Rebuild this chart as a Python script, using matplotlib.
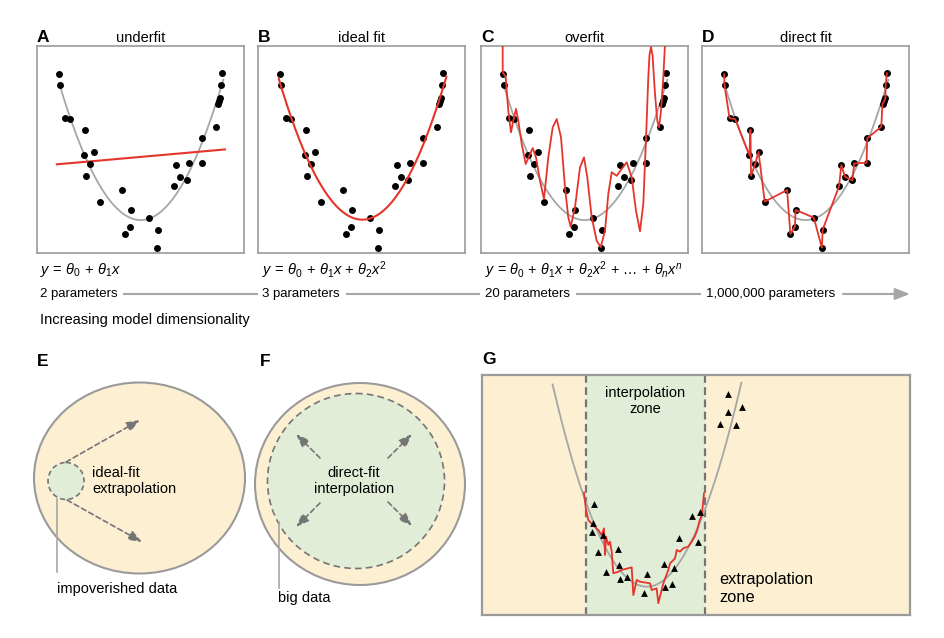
import matplotlib
matplotlib.use('Agg')
import matplotlib.pyplot as plt
import numpy as np
from matplotlib.patches import Ellipse

plt.rcParams['font.family'] = ['Liberation Sans', 'DejaVu Sans']
plt.rcParams['mathtext.fontset'] = 'custom'
plt.rcParams['mathtext.rm'] = 'Liberation Sans'
plt.rcParams['mathtext.it'] = 'Liberation Sans:italic'
plt.rcParams['mathtext.bf'] = 'Liberation Sans:bold'

# colours
RED = '#e5352b'
GREY = '#a6a6a6'
EDGE = '#9a9a9a'
DASH = '#757575'
YELLOW = '#fcefd2'
GREEN = '#e2edd7'

# sample points shared by panels A-D (box coords 0..1)
pts_x = [0.107, 0.109, 0.133, 0.160, 0.234, 0.229, 0.273, 0.257, 0.237, 0.303,
         0.411, 0.452, 0.449, 0.427, 0.540, 0.583, 0.579, 0.662, 0.673, 0.691,
         0.727, 0.735, 0.795, 0.798, 0.866, 0.872, 0.880, 0.886, 0.887, 0.893]
pts_y = [0.863, 0.810, 0.651, 0.647, 0.596, 0.472, 0.489, 0.431, 0.373, 0.248,
         0.304, 0.208, 0.127, 0.092, 0.171, 0.113, 0.026, 0.322, 0.424, 0.369,
         0.351, 0.433, 0.436, 0.554, 0.610, 0.720, 0.734, 0.747, 0.810, 0.868]

# true (grey) curve: quadratic a*(x-h)^2 + k
true_a, true_h, true_k = 4.26, 0.501, 0.159
true_range = (0.107, 0.90)

# overfit curve in panel C
over_x = [0.1048, 0.1048, 0.1126, 0.1193, 0.1242, 0.1319, 0.1449, 0.156, 0.1691, 0.1802,
          0.1966, 0.216, 0.2333, 0.2498, 0.2657, 0.285, 0.3043, 0.3251, 0.3464, 0.3657,
          0.3865, 0.4058, 0.4217, 0.4333, 0.4541, 0.4783, 0.4976, 0.5135, 0.5348, 0.5589,
          0.5783, 0.599, 0.615, 0.6314, 0.6556, 0.6797, 0.7039, 0.728, 0.7488, 0.7681,
          0.784, 0.7971, 0.8082, 0.814, 0.8213, 0.8285, 0.8406, 0.8517, 0.8599, 0.8696,
          0.8807, 0.8923]
over_y = [1.077, 0.873, 0.862, 0.849, 0.784, 0.687, 0.583, 0.639, 0.696, 0.639,
          0.527, 0.430, 0.470, 0.507, 0.462, 0.349, 0.261, 0.462, 0.607, 0.647,
          0.559, 0.317, 0.172, 0.127, 0.221, 0.414, 0.462, 0.366, 0.172, 0.059,
          0.028, 0.108, 0.285, 0.390, 0.373, 0.406, 0.438, 0.366, 0.204, 0.105,
          0.237, 0.551, 0.849, 0.957, 0.995, 0.957, 0.768, 0.639, 0.607, 0.687,
          0.849, 1.077]

# panel G
g_tri_x = [0.2625, 0.260, 0.256, 0.2835, 0.270, 0.3185, 0.320, 0.289, 0.3225, 0.338,
           0.385, 0.379, 0.426, 0.449, 0.4276, 0.4447, 0.461, 0.4914, 0.509, 0.504,
           0.574, 0.607, 0.5755, 0.556, 0.593]
g_tri_y = [0.4625, 0.382, 0.347, 0.333, 0.264, 0.275, 0.208, 0.178, 0.149, 0.160,
           0.170, 0.090, 0.214, 0.197, 0.118, 0.128, 0.319, 0.4125, 0.431, 0.3055,
           0.919, 0.868, 0.845, 0.795, 0.792]
g_fit_x = [0.2383, 0.243, 0.2484, 0.2586, 0.2718, 0.2796, 0.285, 0.2874, 0.2897, 0.2952,
           0.299, 0.303, 0.3068, 0.3185, 0.3264, 0.3497, 0.3536, 0.3614, 0.369, 0.3925,
           0.3965, 0.408, 0.412, 0.4237, 0.4353, 0.4393, 0.451, 0.455, 0.4626, 0.4703,
           0.482, 0.490, 0.4977, 0.503, 0.5077, 0.5133, 0.5156, 0.5187]
g_fit_y = [0.510, 0.4375, 0.396, 0.375, 0.354, 0.333, 0.361, 0.250, 0.326, 0.292,
           0.3055, 0.264, 0.174, 0.180, 0.1875, 0.1986, 0.083, 0.146, 0.139, 0.132,
           0.104, 0.111, 0.049, 0.132, 0.1875, 0.215, 0.236, 0.271, 0.264, 0.278,
           0.285, 0.3055, 0.329, 0.354, 0.389, 0.4167, 0.451, 0.507]
g_a, g_h, g_k = 17.4, 0.385, 0.118
g_range = (0.165, 0.606)
g_zone = (0.242, 0.521)

fig = plt.figure(figsize=(9.44, 6.38), dpi=100)
W, H = 944, 638

# overlay in pixel coordinates for text and diagrams
ov = fig.add_axes([0, 0, 1, 1])
ov.set_xlim(0, W)
ov.set_ylim(H, 0)
ov.axis('off')


def box_axes(left, top, w, h):
    ax = fig.add_axes([left / W, 1 - (top + h) / H, w / W, h / H])
    ax.set_xlim(0, 1)
    ax.set_ylim(0, 1)
    ax.set_xticks([])
    ax.set_yticks([])
    for s in ax.spines.values():
        s.set_color(EDGE)
        s.set_linewidth(1.2)
    return ax


px = np.array(pts_x)
py = np.array(pts_y)
xx = np.linspace(true_range[0], true_range[1], 200)
true_curve = true_a * (xx - true_h) ** 2 + true_k

lefts = [37, 258, 481, 702]
letters = ['A', 'B', 'C', 'D']
titles = ['underfit', 'ideal fit', 'overfit', 'direct fit']
axes = []
for left, letter, title in zip(lefts, letters, titles):
    ax = box_axes(left, 46, 207, 207)
    axes.append(ax)
    ov.text(left, 38, letter, fontsize=12.5, fontweight='bold', va='center', ha='left')
    ov.text(left + 103.5, 38, title, fontsize=10.5, va='center', ha='center')

DOT = 25

# A: linear fit
ax = axes[0]
ax.plot(xx, true_curve, color=GREY, lw=1.3, zorder=1)
c1 = np.polyfit(px, py, 1)
lx = np.array([0.096, 0.908])
ax.plot(lx, np.polyval(c1, lx), color=RED, lw=1.5, zorder=2)
ax.scatter(px, py, s=DOT, color='black', lw=0, zorder=3)

# B: quadratic fit
ax = axes[1]
c2 = np.polyfit(px, py, 2)
qx = np.linspace(0.10, 0.91, 200)
ax.scatter(px, py, s=DOT, color='black', lw=0, zorder=2)
ax.plot(qx, np.polyval(c2, qx), color=RED, lw=1.5, zorder=3)

# C: overfit
ax = axes[2]
ax.plot(xx, true_curve, color=GREY, lw=1.3, zorder=1)
ax.scatter(px, py, s=DOT, color='black', lw=0, zorder=2)
ax.plot(over_x, over_y, color=RED, lw=1.3, zorder=3, solid_joinstyle='round')

# D: direct fit (connect the dots)
ax = axes[3]
order = np.argsort(px)
ax.plot(xx, true_curve, color=GREY, lw=1.3, zorder=1)
ax.scatter(px, py, s=DOT, color='black', lw=0, zorder=2)
ax.plot(px[order], py[order], color=RED, lw=1.3, zorder=3)

# formulas and parameter row
ov.text(40, 270, r'$y\,=\,\theta_0\,+\,\theta_1x$', fontsize=10.5, va='center')
ov.text(262, 270, r'$y\,=\,\theta_0\,+\,\theta_1x\,+\,\theta_2x^2$', fontsize=10.5,
        va='center')
ov.text(485, 270,
        r'$y\,=\,\theta_0\,+\,\theta_1x\,+\,\theta_2x^2\,+\,\ldots\,+\,\theta_nx^n$',
        fontsize=10.3, va='center')

param_labels = ['2 parameters', '3 parameters', '20 parameters', '1,000,000 parameters']
param_x = [40, 262, 485, 706]
for lab, x in zip(param_labels, param_x):
    ov.text(x, 294, lab, fontsize=9.5, va='center', ha='left')
for x0, x1 in [(124, 257), (347, 479), (577, 700)]:
    ov.plot([x0, x1], [294, 294], color=GREY, lw=1.5)
ov.annotate('', xy=(910, 294), xytext=(843, 294),
            arrowprops=dict(arrowstyle='-|>,head_length=0.9,head_width=0.35',
                            color=GREY, lw=1.5, shrinkA=0, shrinkB=0))
ov.text(40, 320, 'Increasing model dimensionality', fontsize=10.5, va='center')

# E
ov.text(37, 361, 'E', fontsize=12.5, fontweight='bold', va='center')
ov.add_patch(Ellipse((139.5, 478), 211, 191, facecolor=YELLOW, edgecolor=EDGE, lw=1.5))
ov.add_patch(Ellipse((66, 481), 36, 37, facecolor=GREEN, edgecolor=DASH, lw=1.2,
                     linestyle=(0, (3, 2))))
for (x0, y0), (x1, y1) in [((66, 462), (140, 420)), ((67, 500), (142, 542))]:
    ov.annotate('', xy=(x1, y1), xytext=(x0, y0),
                arrowprops=dict(arrowstyle='-|>,head_length=0.8,head_width=0.3',
                                color=DASH, lw=1.2, linestyle=(0, (3, 2)),
                                shrinkA=0, shrinkB=0))
ov.text(92, 481, 'ideal-fit\nextrapolation', fontsize=10.5, va='center', ha='left',
        linespacing=1.25)
ov.plot([57, 57], [499, 572], color=GREY, lw=1.2)
ov.text(57, 589, 'impoverished data', fontsize=10.5, va='center', ha='left')

# F
ov.text(260, 361, 'F', fontsize=12.5, fontweight='bold', va='center')
ov.add_patch(Ellipse((360, 484), 210, 202, facecolor=YELLOW, edgecolor=EDGE, lw=1.5))
ov.add_patch(Ellipse((356, 481), 177, 175, facecolor=GREEN, edgecolor=DASH, lw=1.2,
                     linestyle=(0, (4, 2.5))))
for (x0, y0), (x1, y1) in [((320, 458), (296, 434)), ((388, 458), (412, 434)),
                           ((320, 503), (296, 527)), ((388, 502), (412, 526))]:
    ov.annotate('', xy=(x1, y1), xytext=(x0, y0),
                arrowprops=dict(arrowstyle='-|>,head_length=0.8,head_width=0.3',
                                color=DASH, lw=1.2, linestyle=(0, (3, 2)),
                                shrinkA=0, shrinkB=0))
ov.text(354, 481, 'direct-fit\ninterpolation', fontsize=10.5, va='center', ha='center',
        linespacing=1.25)
ov.plot([279, 279], [522, 588], color=GREY, lw=1.2)
ov.text(278, 598, 'big data', fontsize=10.5, va='center', ha='left')

# G
ov.text(482, 360, 'G', fontsize=12.5, fontweight='bold', va='center')
axg = box_axes(482, 375, 428, 240)
axg.set_facecolor(YELLOW)
for s in axg.spines.values():
    s.set_linewidth(1.6)
axg.axvspan(g_zone[0], g_zone[1], color=GREEN, lw=0, zorder=0)
for zx in g_zone:
    axg.axvline(zx, color=DASH, lw=1.6, linestyle=(0, (3.5, 2)), zorder=1)
gx = np.linspace(g_range[0], g_range[1], 200)
axg.plot(gx, g_a * (gx - g_h) ** 2 + g_k, color=GREY, lw=1.3, zorder=2)
axg.plot(g_fit_x, g_fit_y, color=RED, lw=1.3, zorder=3)
axg.scatter(g_tri_x, g_tri_y, marker='^', s=24, color='black', lw=0, zorder=4)
axg.text(np.mean(g_zone), 0.892, 'interpolation\nzone', fontsize=10.5, ha='center',
         va='center', linespacing=1.2)
axg.text(0.554, 0.111, 'extrapolation\nzone', fontsize=11.8, ha='left', va='center',
         linespacing=1.25)

fig.savefig('out.png', dpi=100)
